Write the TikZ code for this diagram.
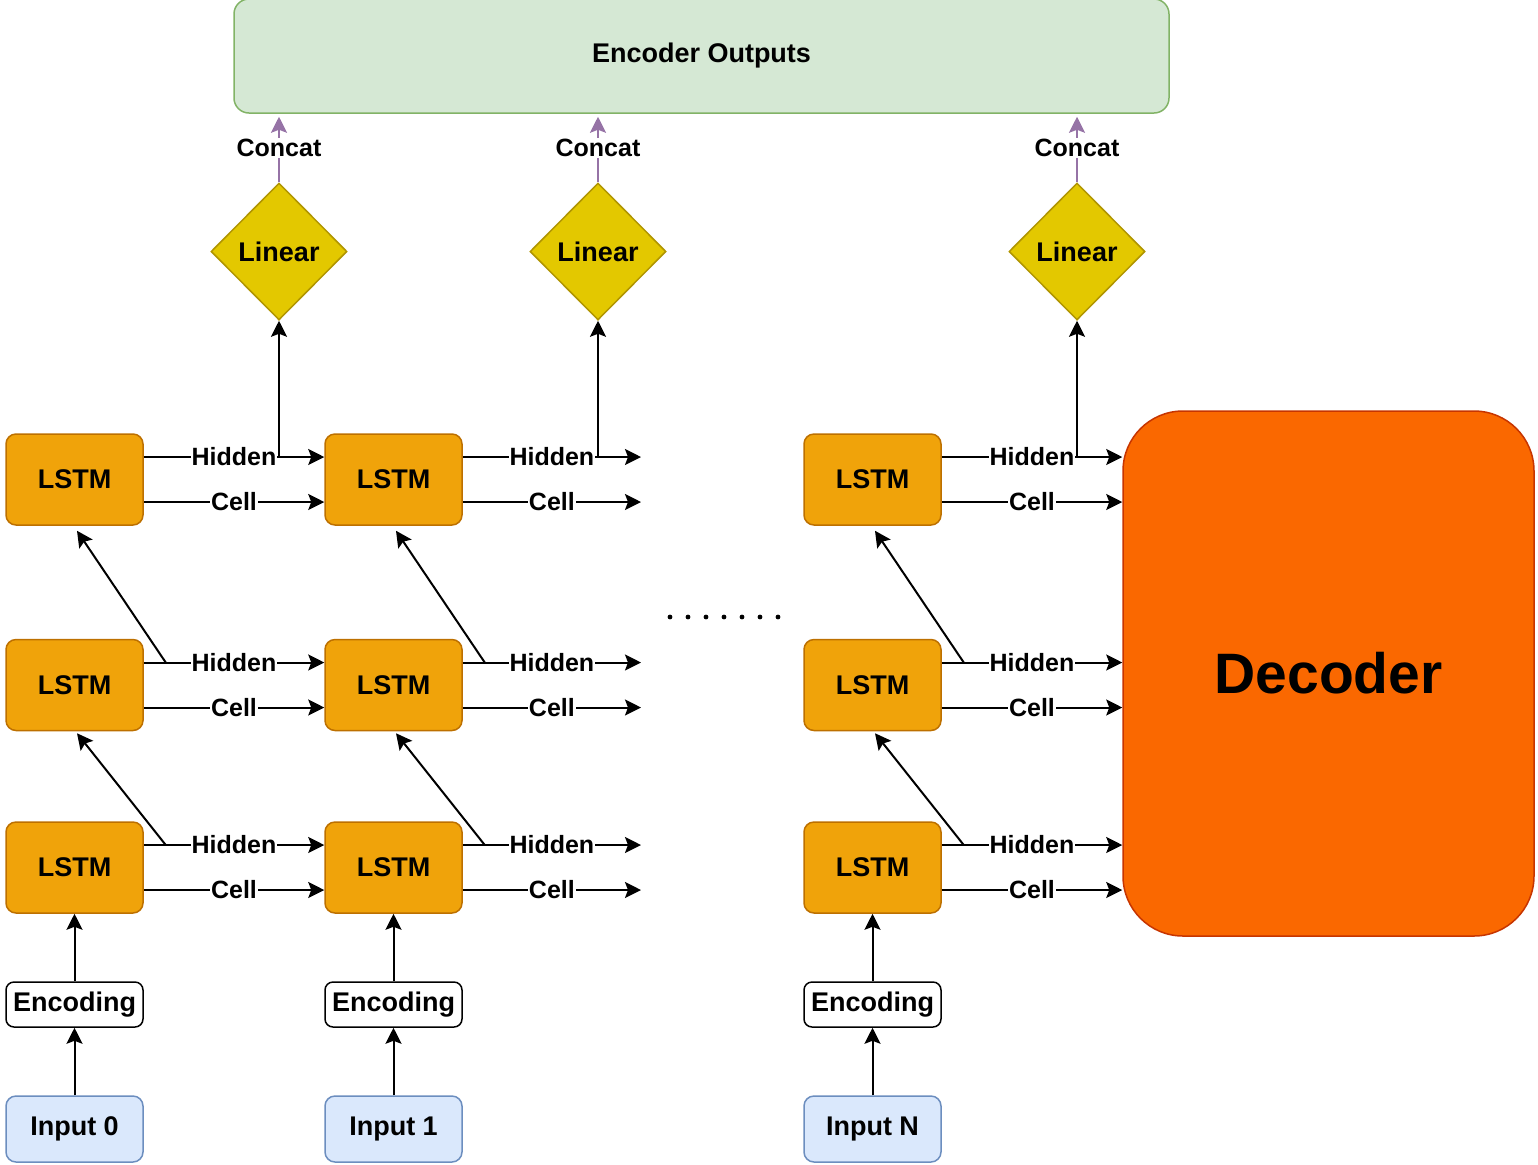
\documentclass[tikz,border=0pt]{standalone}
\usepackage{fontspec}
\setmainfont{Liberation Sans}
\usetikzlibrary{shapes.geometric,arrows.meta}

\definecolor{lstmfill}{HTML}{F0A30A}
\definecolor{lstmline}{HTML}{BD7000}
\definecolor{linfill}{HTML}{E3C800}
\definecolor{linline}{HTML}{B09500}
\definecolor{outfill}{HTML}{D5E8D4}
\definecolor{outline}{HTML}{82B366}
\definecolor{infill}{HTML}{DAE8FC}
\definecolor{inline}{HTML}{6C8EBF}
\definecolor{decfill}{HTML}{FA6800}
\definecolor{decline}{HTML}{C73500}
\definecolor{concatcol}{HTML}{9673A6}

\tikzset{
  lstm/.style={draw=lstmline, fill=lstmfill, line width=0.75pt, rounded corners=5pt,
    minimum width=68.5pt, minimum height=45.5pt, font=\fontsize{13.5}{16}\selectfont\bfseries},
  enc/.style={draw=black, fill=white, line width=0.75pt, rounded corners=4pt,
    minimum width=68.5pt, minimum height=22.5pt, inner sep=1pt, font=\fontsize{13.5}{16}\selectfont\bfseries},
  inp/.style={draw=inline, fill=infill, line width=0.75pt, rounded corners=5pt,
    minimum width=68.5pt, minimum height=33pt, font=\fontsize{13.5}{16}\selectfont\bfseries},
  linear/.style={diamond, draw=linline, fill=linfill, line width=0.75pt, inner sep=0pt,
    minimum width=68pt, minimum height=68.5pt, font=\fontsize{13.5}{16}\selectfont\bfseries},
  arrow/.style={line width=1pt, -{Stealth[length=8pt, width=8pt, inset=1.5pt]}},
  concatarrow/.style={concatcol, line width=1pt, shorten >=1.5pt, -{Stealth[length=8pt, width=8pt, inset=1.5pt]}},
  lbl/.style={fill=white, inner sep=0.5pt, text=black, font=\fontsize{12.5}{15}\selectfont\bfseries}
}

\begin{document}
\begin{tikzpicture}[x=0.5pt,y=-0.5pt]
  \useasboundingbox (0,0) rectangle (1538,1164);

  % top box and decoder
  \node[draw=outline, fill=outfill, line width=0.75pt, rounded corners=7.5pt,
    minimum width=467.5pt, minimum height=57pt, font=\fontsize{13.5}{16}\selectfont\bfseries]
    (outputs) at (701.5,56) {Encoder Outputs};
  \node[draw=decline, fill=decfill, line width=0.75pt, rounded corners=30pt,
    minimum width=205.5pt, minimum height=262.5pt, font=\fontsize{28.5}{32}\selectfont\bfseries]
    (dec) at (1328.5,673.5) {Decoder};
  \coordinate (out) at (641,0);

  % one column per time step
  \foreach \c/\x in {0/74.5, 1/393.5, N/872.5} {
    \node[lstm] (lstm\c1) at (\x,479.5) {LSTM};
    \node[lstm] (lstm\c2) at (\x,685) {LSTM};
    \node[lstm] (lstm\c3) at (\x,867.5) {LSTM};
    \node[enc] (enc\c) at (\x,1004.5) {Encoding};
    \node[inp] (in\c) at (\x,1129) {Input \c};
    \node[linear] (lin\c) at (\x+204.5,251.5) {Linear};
    \draw[arrow] (in\c) -- (enc\c);
    \draw[arrow] (enc\c) -- (lstm\c3);
  }

  % hidden and cell states
  \foreach \c/\t in {0/lstm11.west, 1/out, N/dec.west} {
    \foreach \r in {1,2,3} {
      \coordinate (h\c\r) at ([yshift=11.25pt]lstm\c\r.east);
      \coordinate (s\c\r) at ([yshift=-11.25pt]lstm\c\r.east);
      \draw[arrow] (h\c\r) -- (h\c\r -| \t) node[lbl, midway] {Hidden};
      \draw[arrow] (s\c\r) -- (s\c\r -| \t) node[lbl, midway] {Cell};
    }
    \draw[arrow] ([xshift=11pt]h\c2) -- ([xshift=1.25pt,yshift=-2.5pt]lstm\c1.south);
    \draw[arrow] ([xshift=11pt]h\c3) -- ([xshift=1.25pt,yshift=-1pt]lstm\c2.south);
    \draw[arrow] (lin\c.south |- h\c1) -- (lin\c.south);
    \draw[concatarrow] (lin\c.north) -- (lin\c.north |- outputs.south)
      node[lbl, midway] {Concat};
  }

  % skipped steps
  \foreach \i in {0,...,6}
    \fill (670+18*\i,617) circle (1.2pt);
\end{tikzpicture}
\end{document}
